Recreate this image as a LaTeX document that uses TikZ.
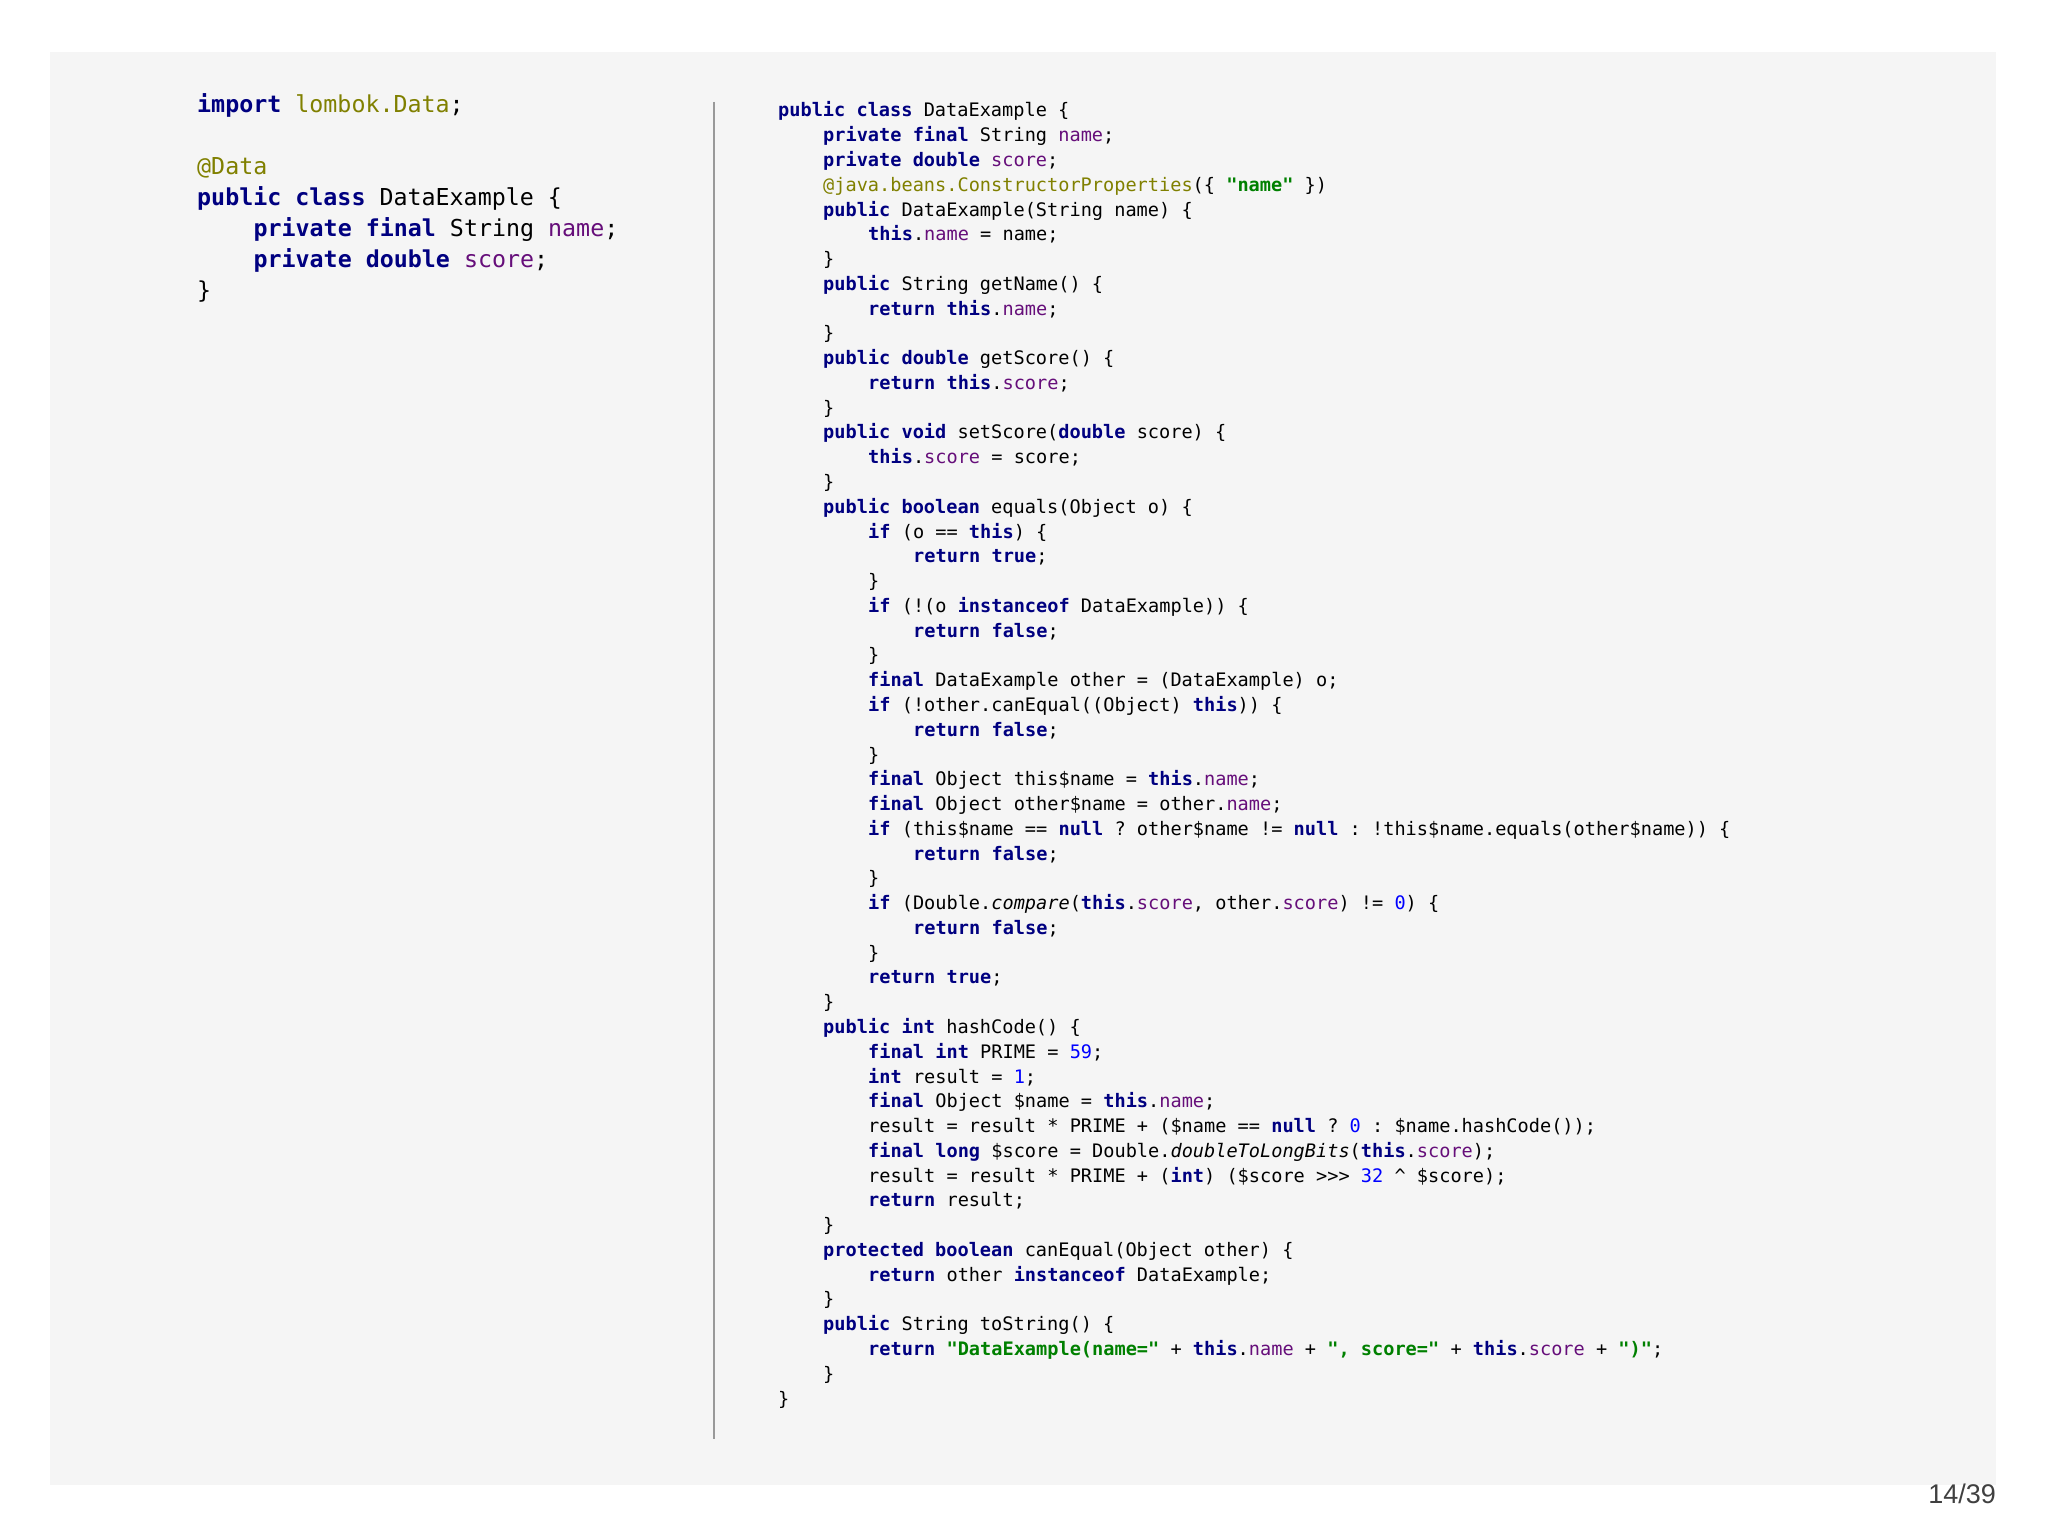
\documentclass[tikz,border=0pt]{standalone}
\usepackage{fontspec}
\setmonofont{DejaVu Sans Mono}
\newfontfamily\pgnum{Liberation Sans}
\definecolor{kwc}{RGB}{0,0,128}
\definecolor{annc}{RGB}{128,128,0}
\definecolor{fldc}{RGB}{102,14,122}
\definecolor{strc}{RGB}{0,128,0}
\definecolor{numc}{RGB}{0,0,255}
\definecolor{panel}{RGB}{245,245,245}
\newcommand\kw[1]{\textcolor{kwc}{\bfseries #1}}
\newcommand\an[1]{\textcolor{annc}{#1}}
\newcommand\fl[1]{\textcolor{fldc}{#1}}
\newcommand\st[1]{\textcolor{strc}{\bfseries #1}}
\newcommand\nm[1]{\textcolor{numc}{#1}}
\newcommand\dl{\$}
\newcommand\cl[3]{\node[rcode] (r#1) at ({778+#2*45},{1419-#1*24.77}) {#3};}
\newcommand\lcl[3]{\node[lcode] (l#1) at ({197+#2*56.4},{1423-#1*31}) {#3};}
\tikzset{
 rcode/.style={anchor=base west,inner sep=0,font=\ttfamily\fontsize{18.6}{22}\selectfont,text=black},
 lcode/.style={anchor=base west,inner sep=0,font=\ttfamily\fontsize{23.3}{28}\selectfont,text=black}}
\begin{document}
\begin{tikzpicture}[x=1pt,y=1pt]
\useasboundingbox (0,0) rectangle (2048,1536);
\fill[white] (0,0) rectangle (2048,1536);
\fill[panel] (50,51) rectangle (1996,1484);
\draw[gray!80,line width=1.2pt] (714,1434) -- (714,97);
\lcl{0}{0}{\kw{import} \an{lombok.Data};}
\lcl{2}{0}{\an{@Data}}
\lcl{3}{0}{\kw{public} \kw{class} DataExample \{}
\lcl{4}{1}{\kw{private} \kw{final} String \fl{name};}
\lcl{5}{1}{\kw{private} \kw{double} \fl{score};}
\lcl{6}{0}{\}}
\cl{0}{0}{\kw{public} \kw{class} DataExample \{}
\cl{1}{1}{\kw{private} \kw{final} String \fl{name};}
\cl{2}{1}{\kw{private} \kw{double} \fl{score};}
\cl{3}{1}{\an{@java.beans.ConstructorProperties}(\{ \st{"name"} \})}
\cl{4}{1}{\kw{public} DataExample(String name) \{}
\cl{5}{2}{\kw{this}.\fl{name} = name;}
\cl{6}{1}{\}}
\cl{7}{1}{\kw{public} String getName() \{}
\cl{8}{2}{\kw{return} \kw{this}.\fl{name};}
\cl{9}{1}{\}}
\cl{10}{1}{\kw{public} \kw{double} getScore() \{}
\cl{11}{2}{\kw{return} \kw{this}.\fl{score};}
\cl{12}{1}{\}}
\cl{13}{1}{\kw{public} \kw{void} setScore(\kw{double} score) \{}
\cl{14}{2}{\kw{this}.\fl{score} = score;}
\cl{15}{1}{\}}
\cl{16}{1}{\kw{public} \kw{boolean} equals(Object o) \{}
\cl{17}{2}{\kw{if} (o == \kw{this}) \{}
\cl{18}{3}{\kw{return} \kw{true};}
\cl{19}{2}{\}}
\cl{20}{2}{\kw{if} (!(o \kw{instanceof} DataExample)) \{}
\cl{21}{3}{\kw{return} \kw{false};}
\cl{22}{2}{\}}
\cl{23}{2}{\kw{final} DataExample other = (DataExample) o;}
\cl{24}{2}{\kw{if} (!other.canEqual((Object) \kw{this})) \{}
\cl{25}{3}{\kw{return} \kw{false};}
\cl{26}{2}{\}}
\cl{27}{2}{\kw{final} Object this\dl name = \kw{this}.\fl{name};}
\cl{28}{2}{\kw{final} Object other\dl name = other.\fl{name};}
\cl{29}{2}{\kw{if} (this\dl name == \kw{null} ? other\dl name != \kw{null} : !this\dl name.equals(other\dl name)) \{}
\cl{30}{3}{\kw{return} \kw{false};}
\cl{31}{2}{\}}
\cl{32}{2}{\kw{if} (Double.\textit{compare}(\kw{this}.\fl{score}, other.\fl{score}) != \nm{0}) \{}
\cl{33}{3}{\kw{return} \kw{false};}
\cl{34}{2}{\}}
\cl{35}{2}{\kw{return} \kw{true};}
\cl{36}{1}{\}}
\cl{37}{1}{\kw{public} \kw{int} hashCode() \{}
\cl{38}{2}{\kw{final} \kw{int} PRIME = \nm{59};}
\cl{39}{2}{\kw{int} result = \nm{1};}
\cl{40}{2}{\kw{final} Object \dl name = \kw{this}.\fl{name};}
\cl{41}{2}{result = result * PRIME + (\dl name == \kw{null} ? \nm{0} : \dl name.hashCode());}
\cl{42}{2}{\kw{final} \kw{long} \dl score = Double.\textit{doubleToLongBits}(\kw{this}.\fl{score});}
\cl{43}{2}{result = result * PRIME + (\kw{int}) (\dl score >>> \nm{32} \textasciicircum{} \dl score);}
\cl{44}{2}{\kw{return} result;}
\cl{45}{1}{\}}
\cl{46}{1}{\kw{protected} \kw{boolean} canEqual(Object other) \{}
\cl{47}{2}{\kw{return} other \kw{instanceof} DataExample;}
\cl{48}{1}{\}}
\cl{49}{1}{\kw{public} String toString() \{}
\cl{50}{2}{\kw{return} \st{"DataExample(name="} + \kw{this}.\fl{name} + \st{", score="} + \kw{this}.\fl{score} + \st{")"};}
\cl{51}{1}{\}}
\cl{52}{0}{\}}
\node[anchor=base east,inner sep=0,font=\pgnum\fontsize{27}{30}\selectfont,text=black!75] (pgn) at (1996,32) {14/39};
\end{tikzpicture}
\end{document}
